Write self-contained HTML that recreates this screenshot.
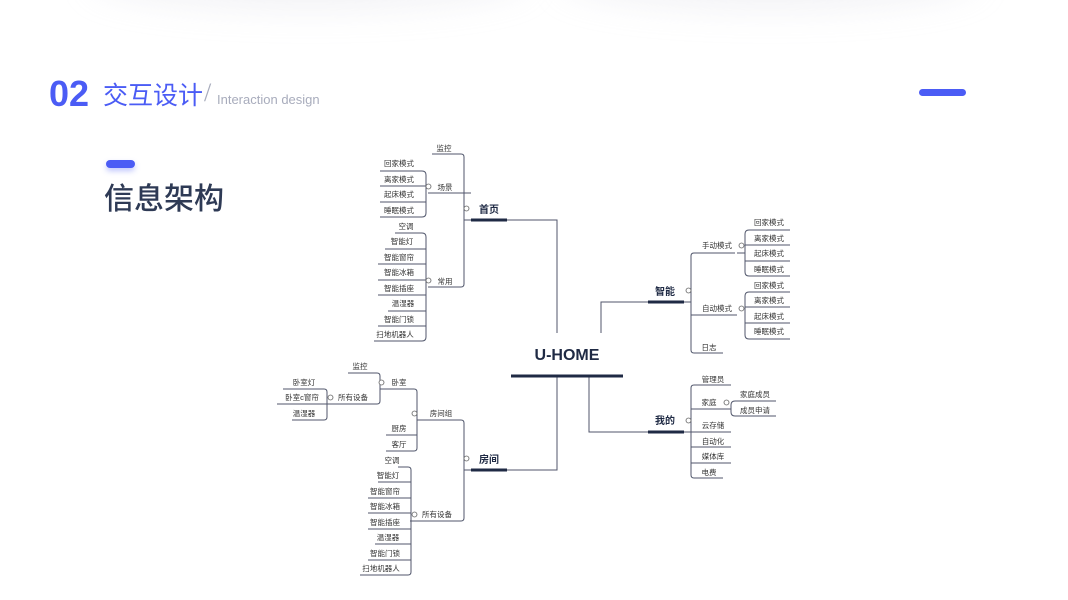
<!DOCTYPE html>
<html><head><meta charset="utf-8">
<style>
html,body{margin:0;padding:0;background:#fff;}
body{width:1068px;height:600px;position:relative;overflow:hidden;font-family:"Liberation Sans","Noto Sans CJK SC",sans-serif;}
.sh{position:absolute;top:-50px;height:60px;border-radius:50%;background:rgba(200,200,215,0.22);filter:blur(16px);}
.t{position:absolute;white-space:nowrap;}
</style></head><body>
<div class="sh" style="left:90px;width:440px;"></div>
<div class="sh" style="left:560px;width:420px;"></div>
<div class="t" style="left:49px;top:74px;font-size:36px;font-weight:bold;color:#4b5cf5;line-height:40px;">02</div>
<div class="t" style="left:103px;top:79px;font-size:25px;color:#4b5cf5;line-height:30px;font-family:'Noto Sans CJK SC',sans-serif;">交互设计</div>
<div class="t" style="left:204px;top:78px;font-size:26px;color:#a8acbc;line-height:30px;font-family:'Liberation Serif',serif;">/</div>
<div class="t" style="left:217px;top:92px;font-size:13px;color:#a8acbc;line-height:16px;">Interaction design</div>
<div style="position:absolute;left:919px;top:89px;width:47px;height:7px;border-radius:4px;background:#4b5cf5;"></div>
<div style="position:absolute;left:106px;top:160px;width:29px;height:8px;border-radius:4px;background:#4b5cf5;box-shadow:0 3px 6px rgba(75,92,245,0.35);"></div>
<div class="t" style="left:104px;top:177px;font-size:30px;color:#2e3a55;line-height:38px;font-weight:500;font-family:'Noto Sans CJK SC',sans-serif;">信息架构</div>

<svg width="1068" height="600" style="position:absolute;left:0;top:0" xmlns="http://www.w3.org/2000/svg">
<g fill="none" stroke="#50566b" stroke-width="1">
<path d="M507 220 H557 V333"/><path d="M557 376 V470 H507"/>
<path d="M601 333 V302 H648"/><path d="M589 376 V432 H648"/>
<path d="M432 154 H461 Q464 154 464 157 V284 Q464 287 461 287 H428"/>
<path d="M428 193 H471"/><path d="M464 220 H471"/>
<path d="M380 171 H422 Q426 171 426 175 V213 Q426 217 422 217 H380"/>
<path d="M380 186 H426"/><path d="M380 202 H426"/>
<path d="M395 233 H422 Q426 233 426 237 V337 Q426 341 422 341 H374"/>
<path d="M385 249 H426"/><path d="M378 264 H426"/><path d="M378 280 H426"/><path d="M378 295 H426"/><path d="M388 311 H426"/><path d="M378 326 H426"/>
<path d="M684 302 H691"/>
<path d="M735 253 H694 Q691 253 691 256 V350 Q691 353 694 353 H723"/>
<path d="M691 315 H737"/>
<path d="M790 230 H749 Q745 230 745 234 V272 Q745 276 749 276 H790"/>
<path d="M745 245 H790"/><path d="M745 261 H790"/><path d="M737 253 H745"/>
<path d="M790 292 H749 Q745 292 745 296 V335 Q745 339 749 339 H790"/>
<path d="M745 307 H790"/><path d="M745 323 H790"/>
<path d="M684 432 H691"/>
<path d="M731 385 H694 Q691 385 691 388 V475 Q691 478 694 478 H723"/>
<path d="M691 409 H731"/><path d="M691 432 H731"/><path d="M691 447 H731"/><path d="M691 463 H731"/>
<path d="M776 401 H735 Q731 401 731 405 V412 Q731 416 735 416 H776"/>
<path d="M418 420 H461 Q464 420 464 423 V518 Q464 521 461 521 H410"/>
<path d="M464 470 H471"/>
<path d="M386 389 H414 Q417 389 417 392 V448 Q417 451 414 451 H386"/><path d="M386 435 H417"/><path d="M417 420 H418"/>
<path d="M348 373 H377 Q380 373 380 376 V401 Q380 404 377 404 H326"/><path d="M380 389 H386"/>
<path d="M283 389 H324 Q327 389 327 392 V417 Q327 420 324 420 H292"/><path d="M277 404 H327"/>
<path d="M398 467 H408 Q411 467 411 470 V572 Q411 575 408 575 H360"/>
<path d="M378 482 H411"/><path d="M368 498 H411"/><path d="M368 513 H411"/><path d="M368 529 H411"/><path d="M375 544 H411"/><path d="M368 560 H411"/><path d="M411 521 H410"/>
</g>
<g stroke="#1f2a44" stroke-width="3">
<path d="M511 376 H623"/><path d="M471 220 H507"/><path d="M471 470 H507"/><path d="M648 302 H684"/><path d="M648 432 H684"/>
</g>
<g fill="#fff" stroke="#666" stroke-width="0.8">
<circle cx="466.5" cy="208.5" r="2.5"/><circle cx="428.5" cy="186.5" r="2.5"/><circle cx="428.5" cy="280.5" r="2.5"/>
<circle cx="688.5" cy="290.5" r="2.5"/><circle cx="741.5" cy="245.5" r="2.5"/><circle cx="741.5" cy="308.5" r="2.5"/>
<circle cx="688.5" cy="420.5" r="2.5"/><circle cx="726.5" cy="402.5" r="2.5"/>
<circle cx="466.5" cy="458.5" r="2.5"/><circle cx="414.5" cy="413.5" r="2.5"/><circle cx="414.5" cy="514.5" r="2.5"/>
<circle cx="381.5" cy="382.5" r="2.5"/><circle cx="330.5" cy="397.5" r="2.5"/>
</g>
<g font-family="Liberation Sans, Noto Sans CJK SC, sans-serif" fill="#1f2a44" font-weight="bold" text-anchor="middle">
<text x="567" y="360" font-size="16">U-HOME</text>
<text x="489" y="213" font-size="10">首页</text>
<text x="665" y="295" font-size="10">智能</text>
<text x="665" y="424" font-size="10">我的</text>
<text x="489" y="463" font-size="10">房间</text>
</g>
<g font-family="Liberation Sans, Noto Sans CJK SC, sans-serif" fill="#333" font-size="7.5" text-anchor="middle">
<text x="444" y="151">监控</text><text x="445" y="190">场景</text><text x="445" y="284">常用</text>
<text x="399" y="166">回家模式</text><text x="399" y="182">离家模式</text><text x="399" y="197">起床模式</text><text x="399" y="213">睡眠模式</text>
<text x="406" y="229">空调</text><text x="402" y="244">智能灯</text><text x="399" y="260">智能窗帘</text><text x="399" y="275">智能冰箱</text><text x="399" y="291">智能插座</text><text x="403" y="306">温湿器</text><text x="399" y="322">智能门锁</text><text x="395" y="337">扫地机器人</text>
<text x="717" y="248">手动模式</text><text x="717" y="311">自动模式</text><text x="709" y="350">日志</text>
<text x="769" y="225">回家模式</text><text x="769" y="241">离家模式</text><text x="769" y="256">起床模式</text><text x="769" y="272">睡眠模式</text>
<text x="769" y="288">回家模式</text><text x="769" y="303">离家模式</text><text x="769" y="319">起床模式</text><text x="769" y="334">睡眠模式</text>
<text x="713" y="382">管理员</text><text x="709" y="405">家庭</text><text x="713" y="428">云存储</text><text x="713" y="444">自动化</text><text x="713" y="459">媒体库</text><text x="709" y="475">电费</text>
<text x="755" y="397">家庭成员</text><text x="755" y="413">成员申请</text>
<text x="441" y="416">房间组</text><text x="437" y="517">所有设备</text>
<text x="399" y="385">卧室</text><text x="399" y="431">厨房</text><text x="399" y="447">客厅</text>
<text x="360" y="369">监控</text><text x="353" y="400">所有设备</text>
<text x="304" y="385">卧室灯</text><text x="302" y="400">卧室c窗帘</text><text x="304" y="416">温湿器</text>
<text x="392" y="463">空调</text><text x="388" y="478">智能灯</text><text x="385" y="494">智能窗帘</text><text x="385" y="509">智能冰箱</text><text x="385" y="525">智能插座</text><text x="388" y="540">温湿器</text><text x="385" y="556">智能门锁</text><text x="381" y="571">扫地机器人</text>
</g>
</svg>
</body></html>
